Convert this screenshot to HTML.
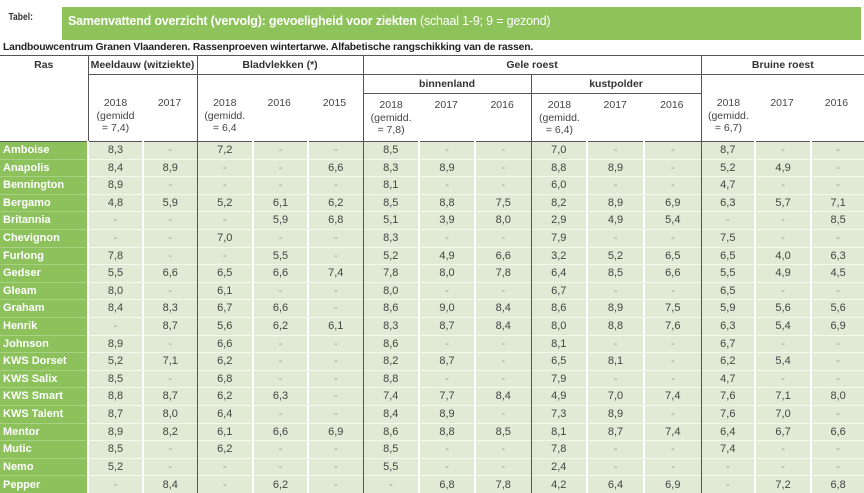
<!DOCTYPE html>
<html><head><meta charset="utf-8"><style>
*{margin:0;padding:0;box-sizing:border-box}
body{width:864px;height:486px;overflow:hidden;background:#fff;font-family:"Liberation Sans",sans-serif;position:relative}
.tab{position:absolute;left:0;top:0;width:62px;height:46px;background:#fff;font-size:10px;font-weight:bold;color:#333;padding:12px 0 0 10px;transform:scaleX(.85);transform-origin:left}
.bar{position:absolute;left:62px;top:7px;width:799px;height:33px;background:#8dc35a;color:#fff;font-size:12.5px;padding-top:7px;padding-left:6px;white-space:nowrap;letter-spacing:-.2px}
.bar b{font-weight:bold}
.sub{position:absolute;left:3px;top:42px;font-size:10.3px;font-weight:bold;color:#222;white-space:nowrap;letter-spacing:-.15px}
table{position:absolute;left:0;top:55px;border-collapse:collapse;table-layout:fixed;width:864px}
th{font-weight:bold;font-size:10.5px;color:#333;text-align:center;border:1px solid #555;border-top:none;height:19px;vertical-align:middle}
th.y{font-weight:normal;color:#444;font-size:10.5px;vertical-align:top;padding-top:5px;line-height:12.5px;height:48px}
tr.h1 th{border-top:1.5px solid #555}
td{height:17.6px;font-size:11px;color:#444;text-align:center;background:#e0ead4;border-left:2px solid #fff;border-top:1px solid #f4f8ef;padding:0;line-height:16.6px}
td.r{background:#8cc15c;color:#fff;font-weight:bold;text-align:left;padding-left:3px;border-left:none;border-top:1px solid #a9d182}
td.g{border-left:1px solid #555}
td.d{color:#999}
</style></head><body>
<div class="tab">Tabel:</div>
<div class="bar"><b>Samenvattend overzicht (vervolg): gevoeligheid voor ziekten</b> (schaal 1-9; 9 = gezond)</div>
<div class="sub">Landbouwcentrum Granen Vlaanderen. Rassenproeven wintertarwe. Alfabetische rangschikking van de rassen.</div>
<table>
<colgroup><col style="width:88px"><col style="width:55px"><col style="width:54px"><col style="width:56px"><col style="width:55px"><col style="width:55px"><col style="width:56px"><col style="width:56px"><col style="width:56px"><col style="width:56px"><col style="width:57px"><col style="width:57px"><col style="width:54px"><col style="width:56px"><col style="width:53px"></colgroup>
<tr class="h1"><th rowspan="3" style="vertical-align:top;padding-top:3px;border-left:none">Ras</th><th colspan="2">Meeldauw (witziekte)</th><th colspan="3">Bladvlekken (*)</th><th colspan="6">Gele roest</th><th colspan="3" style="border-right:none">Bruine roest</th></tr>
<tr><th colspan="2" rowspan="2" class="y" style="padding-top:22px"><div style="display:flex"><span style="width:50%">2018<br>(gemidd<br>= 7,4)</span><span style="width:50%">2017</span></div></th><th colspan="3" rowspan="2" class="y" style="padding-top:22px"><div style="display:flex"><span style="width:33%">2018<br>(gemidd.<br>= 6,4</span><span style="width:33%">2016</span><span style="width:34%">2015</span></div></th><th colspan="3">binnenland</th><th colspan="3">kustpolder</th><th colspan="3" rowspan="2" class="y" style="padding-top:22px;border-right:none"><div style="display:flex"><span style="width:33%">2018<br>(gemidd.<br>= 6,7)</span><span style="width:33%">2017</span><span style="width:34%">2016</span></div></th></tr>
<tr><th colspan="3" class="y" style="height:48px"><div style="display:flex"><span style="width:33%">2018<br>(gemidd.<br>= 7,8)</span><span style="width:33%">2017</span><span style="width:34%">2016</span></div></th><th colspan="3" class="y"><div style="display:flex"><span style="width:33%">2018<br>(gemidd.<br>= 6,4)</span><span style="width:33%">2017</span><span style="width:34%">2016</span></div></th></tr>
<tbody id="b"></tbody>
</table>
<script>
var rows=[
["Amboise","8,3 - 7,2 - - 8,5 - - 7,0 - - 8,7 - -"],
["Anapolis","8,4 8,9 - - 6,6 8,3 8,9 - 8,8 8,9 - 5,2 4,9 -"],
["Bennington","8,9 - - - - 8,1 - - 6,0 - - 4,7 - -"],
["Bergamo","4,8 5,9 5,2 6,1 6,2 8,5 8,8 7,5 8,2 8,9 6,9 6,3 5,7 7,1"],
["Britannia","- - - 5,9 6,8 5,1 3,9 8,0 2,9 4,9 5,4 - - 8,5"],
["Chevignon","- - 7,0 - - 8,3 - - 7,9 - - 7,5 - -"],
["Furlong","7,8 - - 5,5 - 5,2 4,9 6,6 3,2 5,2 6,5 6,5 4,0 6,3"],
["Gedser","5,5 6,6 6,5 6,6 7,4 7,8 8,0 7,8 6,4 8,5 6,6 5,5 4,9 4,5"],
["Gleam","8,0 - 6,1 - - 8,0 - - 6,7 - - 6,5 - -"],
["Graham","8,4 8,3 6,7 6,6 - 8,6 9,0 8,4 8,6 8,9 7,5 5,9 5,6 5,6"],
["Henrik","- 8,7 5,6 6,2 6,1 8,3 8,7 8,4 8,0 8,8 7,6 6,3 5,4 6,9"],
["Johnson","8,9 - 6,6 - - 8,6 - - 8,1 - - 6,7 - -"],
["KWS Dorset","5,2 7,1 6,2 - - 8,2 8,7 - 6,5 8,1 - 6,2 5,4 -"],
["KWS Salix","8,5 - 6,8 - - 8,8 - - 7,9 - - 4,7 - -"],
["KWS Smart","8,8 8,7 6,2 6,3 - 7,4 7,7 8,4 4,9 7,0 7,4 7,6 7,1 8,0"],
["KWS Talent","8,7 8,0 6,4 - - 8,4 8,9 - 7,3 8,9 - 7,6 7,0 -"],
["Mentor","8,9 8,2 6,1 6,6 6,9 8,6 8,8 8,5 8,1 8,7 7,4 6,4 6,7 6,6"],
["Mutic","8,5 - 6,2 - - 8,5 - - 7,8 - - 7,4 - -"],
["Nemo","5,2 - - - - 5,5 - - 2,4 - - - - -"],
["Pepper","- 8,4 - 6,2 - - 6,8 7,8 4,2 6,4 6,9 - 7,2 6,8"]];
var h="",grp=[1,3,6,9,12];
rows.forEach(function(r){h+='<tr><td class="r">'+r[0]+'</td>';r[1].split(" ").forEach(function(v,i){var c=[];if(grp.indexOf(i+1)>=0&&i>0)c.push("g");if(v=="-")c.push("d");h+='<td class="'+c.join(" ")+'">'+v+'</td>'});h+='</tr>'});
document.getElementById("b").innerHTML=h;
</script>
</body></html>
